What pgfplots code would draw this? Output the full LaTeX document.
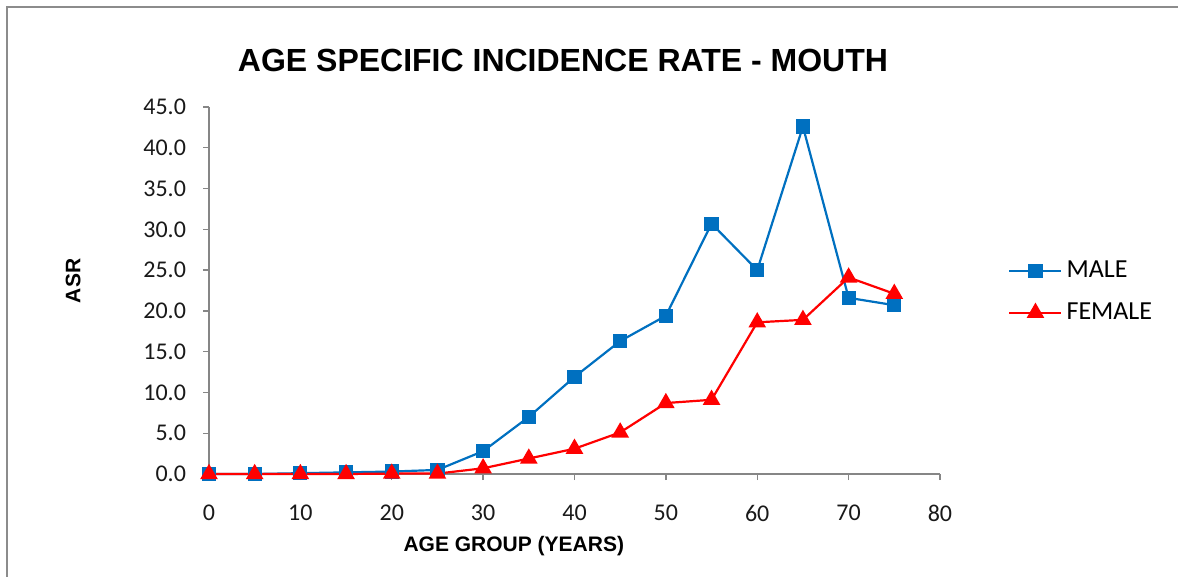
\documentclass[border=0pt]{standalone}
\usepackage{fontspec}
\setmainfont{Carlito}
\newfontfamily\arialf{Liberation Sans}
\usepackage{pgfplots}
\pgfplotsset{compat=1.18}
\definecolor{mblue}{HTML}{0070C0}
\definecolor{axgray}{RGB}{134,134,134}
\definecolor{framegray}{RGB}{140,140,140}
\begin{document}
\begin{tikzpicture}
\path[use as bounding box] (0,0) rectangle (589pt,-288.5pt);
\draw[framegray, line width=1.3pt] (3.5pt,-288.5pt) -- (3.5pt,-3.5pt) -- (589pt,-3.5pt);
\node[font=\arialf\bfseries\fontsize{16}{19}\selectfont, xscale=1.0] at (281.5pt,-30pt) {AGE SPECIFIC INCIDENCE RATE - MOUTH};
\begin{axis}[
  at={(104.5pt,-237pt)}, anchor=south west,
  scale only axis, width=365.5pt, height=183.5pt,
  xmin=0, xmax=80, ymin=0, ymax=45,
  axis lines*=left, axis line style={axgray, line width=0.7pt},
  xtick={0,10,...,80}, ytick={0,5,...,45},
  tick style={axgray, line width=0.7pt},
  tick align=outside, major tick length=3pt,
  clip=false,
  /pgf/number format/assume math mode=true,
  ticklabel style={font=\fontsize{12}{14}\selectfont, text=black!90},
  yticklabel style={/pgf/number format/fixed, /pgf/number format/fixed zerofill, /pgf/number format/precision=1, xshift=-5pt},
  xticklabel style={yshift=-9pt},
  xlabel={\arialf\bfseries AGE GROUP (YEARS)},
  ylabel={\arialf\bfseries ASR},
  label style={font=\fontsize{10.5}{12}\selectfont},
  xlabel style={at={(axis description cs:0.417,0)}, anchor=center, yshift=-36pt},
  ylabel style={at={(axis description cs:-0.186,0.526)}, anchor=center},
  legend style={at={(axis description cs:1.093,0.496)}, anchor=west, draw=none, fill=none,
    font=\fontsize{13}{15}\selectfont, row sep=7pt, inner sep=0pt},
  legend cell align=left,
  legend image code/.code={\draw[mark repeat=2, mark phase=2] plot coordinates {(0pt,0pt)(13pt,0pt)(26pt,0pt)};},
]
\addplot[mblue, line width=1.1pt, mark=square*, mark size=3pt, mark options={solid}]
 coordinates {(0,0)(5,0)(10,0.1)(15,0.2)(20,0.3)(25,0.5)(30,2.8)(35,7.0)(40,11.9)(45,16.3)(50,19.4)(55,30.7)(60,25.0)(65,42.6)(70,21.6)(75,20.7)};
\addlegendentry{MALE}
\addplot[red, line width=1.1pt, mark=triangle*, mark size=4pt, mark options={solid}]
 coordinates {(0,0)(5,0)(10,0)(15,0)(20,0.05)(25,0.05)(30,0.7)(35,1.9)(40,3.1)(45,5.1)(50,8.7)(55,9.1)(60,18.6)(65,18.9)(70,24.1)(75,22.1)};
\addlegendentry{FEMALE}
\end{axis}
\end{tikzpicture}
\end{document}
